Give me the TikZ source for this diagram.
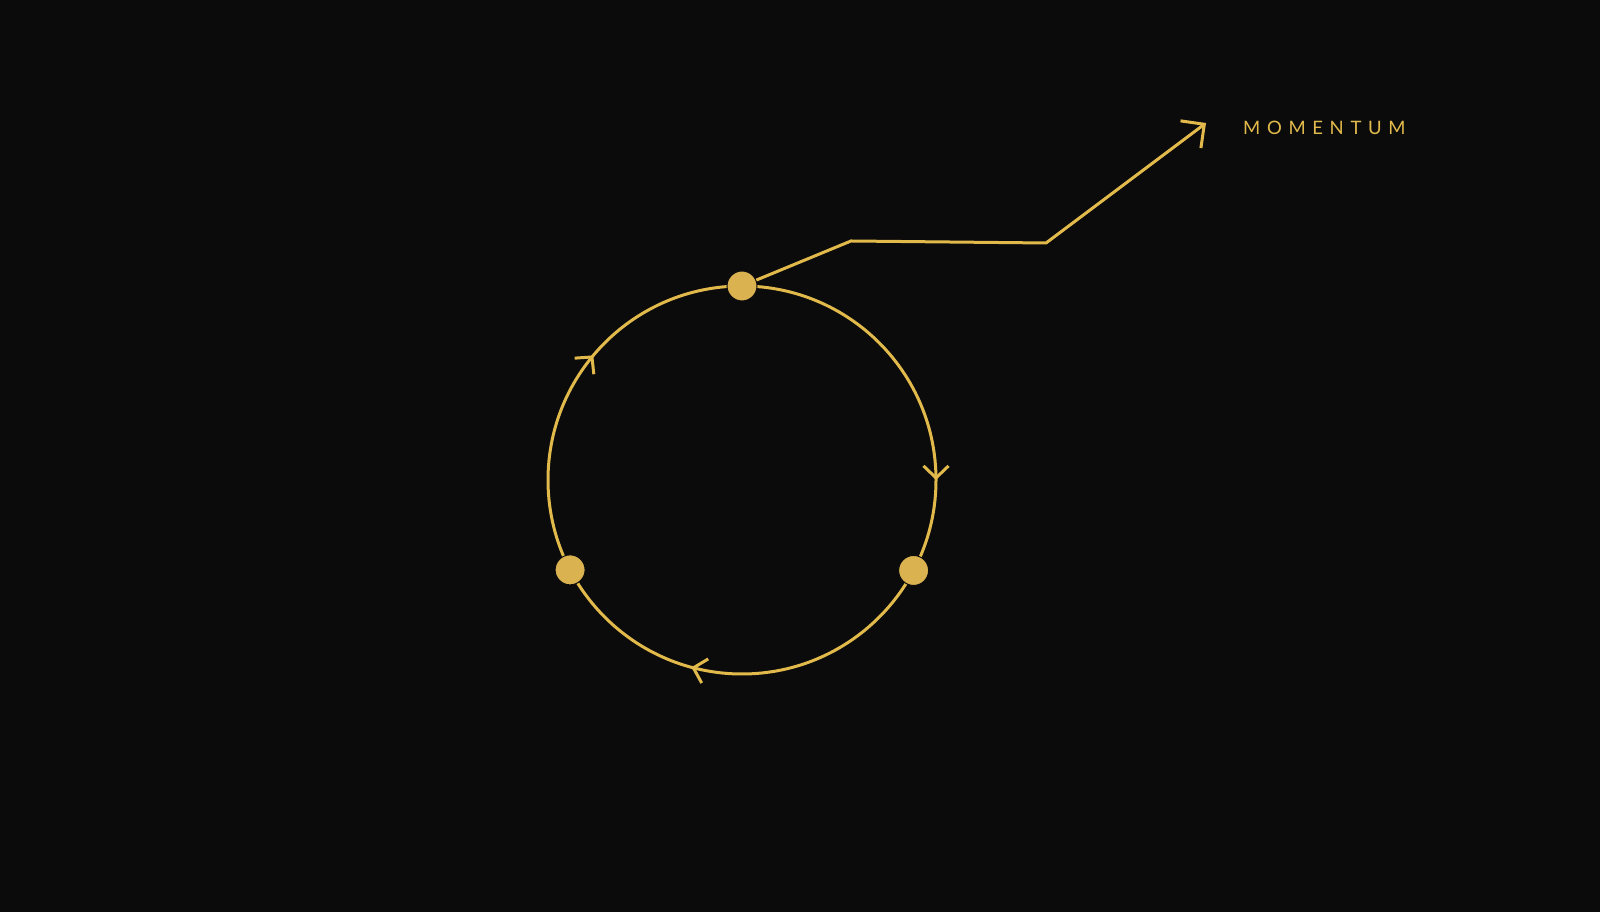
\documentclass[tikz,border=0pt]{standalone}
\usepackage{fontspec}
\newfontfamily\labelfont[LetterSpace=36]{Lato}
\usetikzlibrary{arrows.meta,decorations.markings}
\definecolor{gold}{RGB}{226,186,76}
\definecolor{dotgold}{RGB}{218,178,80}
\definecolor{bg}{RGB}{11,11,11}

\begin{document}
\begin{tikzpicture}[x=1pt,y=1pt,
    ring/.style={draw=gold,line width=3pt},
    stop/.style={circle,fill=dotgold,draw=bg,line width=1pt,minimum size=30pt,inner sep=0pt}]
  % background
  \fill[bg] (0,0) rectangle (1600,912);
  \useasboundingbox (0,0) rectangle (1600,912);

  % the cycle, clockwise
  \coordinate (c) at (742,432);
  \draw[ring,postaction={decorate},decoration={markings,
      mark=at position 0.25 with {\arrow{Straight Barb[length=12pt,width=25pt]}},
      mark=at position 0.542 with {\arrow{Straight Barb[length=12pt,width=25pt]}},
      mark=at position 0.861 with {\arrow{Straight Barb[length=12pt,width=25pt]}}}]
    ([shift={(90:194)}]c) arc[start angle=90,end angle=-270,radius=194];

  % three stops on the ring
  \node[stop] (top) at ([shift={(90:194)}]c) {};
  \node[stop] (left) at ([shift={(207.6:194)}]c) {};
  \node[stop] (right) at ([shift={(-27.8:194)}]c) {};

  % momentum line
  \coordinate (k1) at (851,671);
  \coordinate (k2) at (1046,669);
  \coordinate (tip) at (1206,789);
  \draw[ring,-{Straight Barb[length=17pt,width=34pt]}] (top) -- (k1) -- (k2) -- (tip);
  \node[anchor=base west,inner sep=0pt,text=gold,font=\labelfont\fontsize{18.5}{20}\selectfont] (momentum) at (1243,777) {MOMENTUM};

\end{tikzpicture}
\end{document}
